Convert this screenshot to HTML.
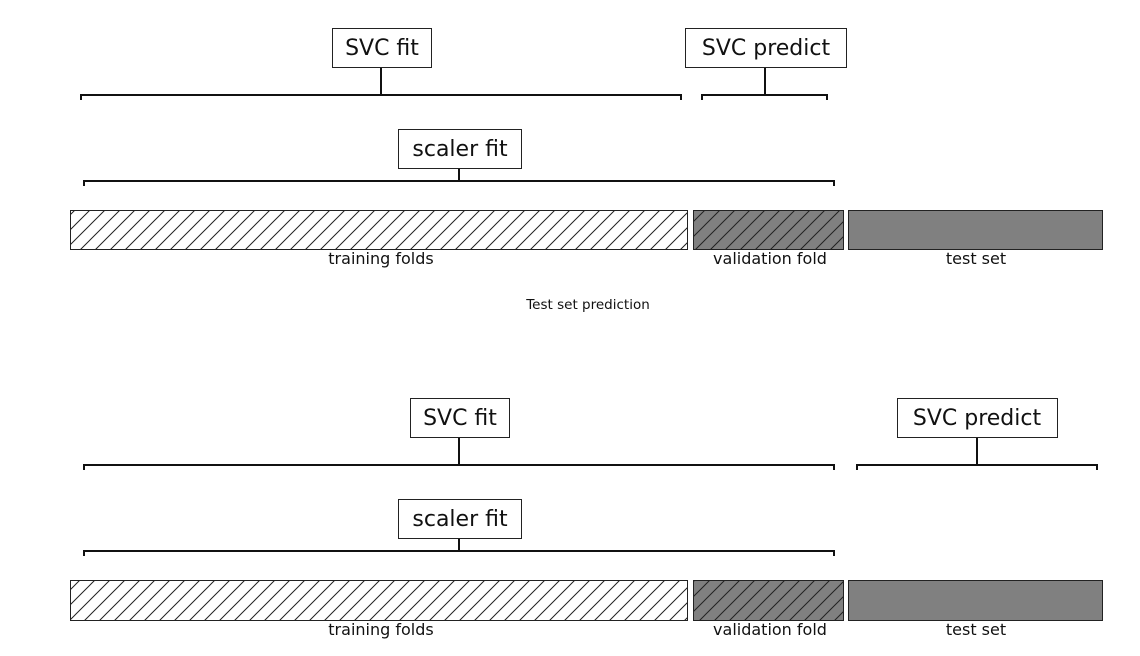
<!DOCTYPE html>
<html><head><meta charset="utf-8"><style>
html,body{margin:0;padding:0;background:#fff;}
svg{display:block;}
text{font-family:"DejaVu Sans","Liberation Sans",sans-serif;fill:#111;}
</style></head><body>
<svg width="1140" height="656" viewBox="0 0 1140 656" xmlns="http://www.w3.org/2000/svg">
<defs>
<pattern id="h" patternUnits="userSpaceOnUse" width="15" height="15">
<path d="M-2,2 L2,-2 M0,15 L15,0 M13,17 L17,13" stroke="#222" stroke-width="1"/>
</pattern>
</defs>
<g stroke="#111" stroke-width="2" fill="none">
<!-- top -->
<path d="M81,100 V95 H681 V100 M381,95 V67"/>
<path d="M702,100 V95 H827 V100 M765,95 V67"/>
<path d="M84,186 V181 H834 V186 M459,181 V168"/>
<!-- bottom -->
<path d="M84,470 V465 H834 V470 M459,465 V437"/>
<path d="M857,470 V465 H1097 V470 M977,465 V437"/>
<path d="M84,556 V551 H834 V556 M459,551 V538"/>
</g>
<g stroke="#222" stroke-width="1">
<rect x="332.5" y="28.5" width="99" height="39" fill="#fff"/>
<rect x="685.5" y="28.5" width="161" height="39" fill="#fff"/>
<rect x="398.5" y="129.5" width="123" height="39" fill="#fff"/>
<rect x="410.5" y="398.5" width="99" height="39" fill="#fff"/>
<rect x="897.5" y="398.5" width="160" height="39" fill="#fff"/>
<rect x="398.5" y="499.5" width="123" height="39" fill="#fff"/>

<rect x="70.5" y="210.5" width="617" height="39" fill="#fff"/>
<rect x="70.5" y="210.5" width="617" height="39" fill="url(#h)"/>
<rect x="693.5" y="210.5" width="150" height="39" fill="#808080"/>
<rect x="693.5" y="210.5" width="150" height="39" fill="url(#h)"/>
<rect x="848.5" y="210.5" width="254" height="39" fill="#808080"/>

<rect x="70.5" y="580.5" width="617" height="40" fill="#fff"/>
<rect x="70.5" y="580.5" width="617" height="40" fill="url(#h)"/>
<rect x="693.5" y="580.5" width="150" height="40" fill="#808080"/>
<rect x="693.5" y="580.5" width="150" height="40" fill="url(#h)"/>
<rect x="848.5" y="580.5" width="254" height="40" fill="#808080"/>
</g>
<g font-size="22" text-anchor="middle">
<text x="382" y="55">SVC fit</text>
<text x="766" y="55">SVC predict</text>
<text x="460" y="156">scaler fit</text>
<text x="460" y="425">SVC fit</text>
<text x="977" y="425">SVC predict</text>
<text x="460" y="526">scaler fit</text>
</g>
<g font-size="16" text-anchor="middle">
<text x="381" y="264">training folds</text>
<text x="770" y="264">validation fold</text>
<text x="976" y="264">test set</text>
<text x="381" y="635">training folds</text>
<text x="770" y="635">validation fold</text>
<text x="976" y="635">test set</text>
</g>
<text x="588" y="309" font-size="13.5" text-anchor="middle">Test set prediction</text>
</svg>
</body></html>
